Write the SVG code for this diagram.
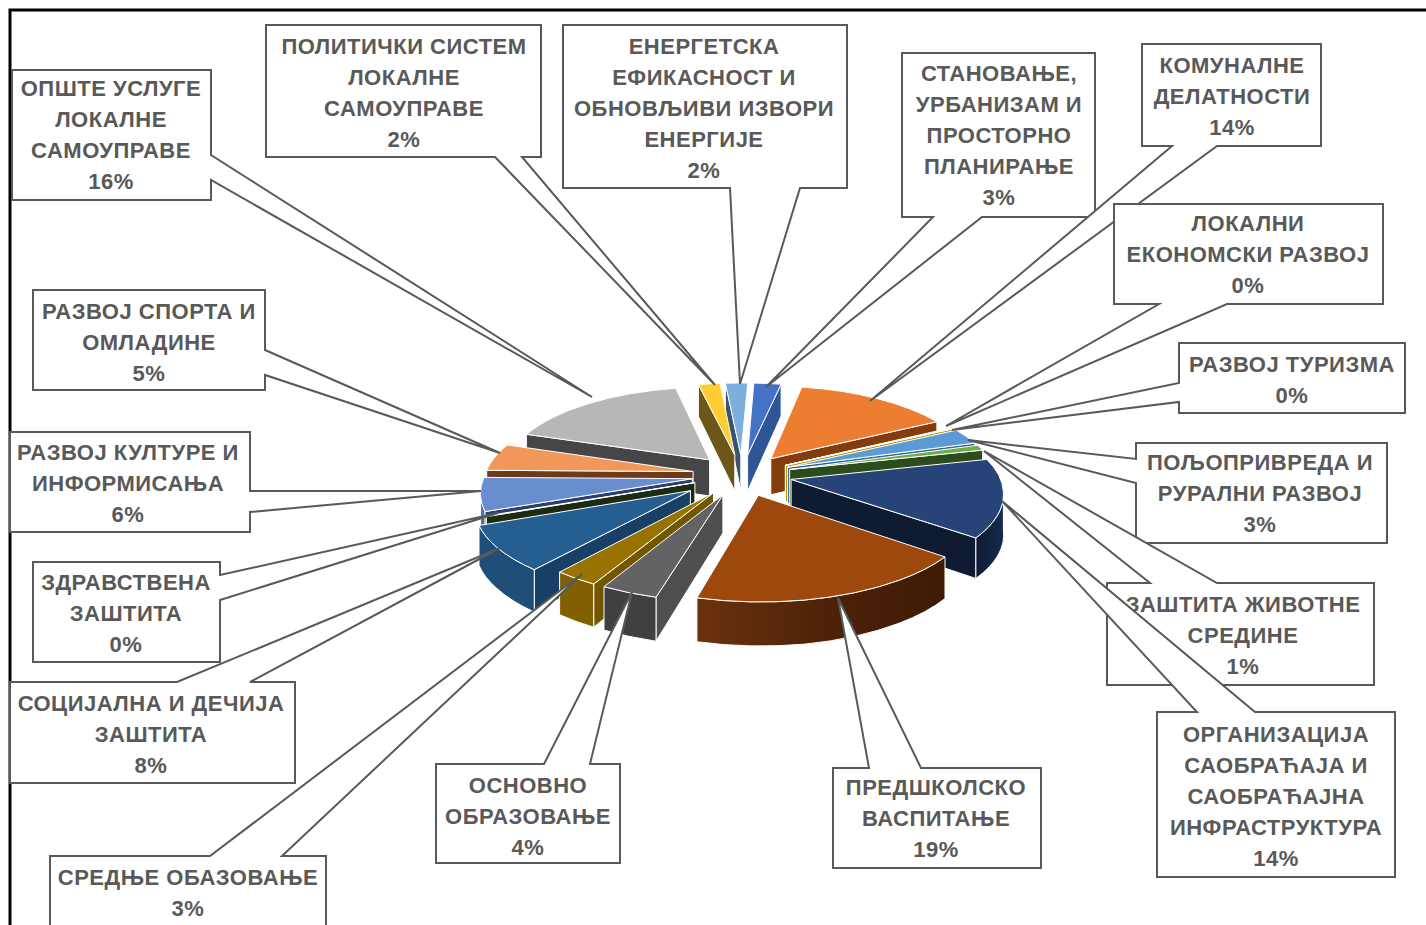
<svg xmlns="http://www.w3.org/2000/svg" width="1426" height="925" viewBox="0 0 1426 925">
<defs>
<style>
.f{stroke:#ffffff;stroke-width:1;stroke-linejoin:round}
.box{fill:#ffffff;stroke:#595959;stroke-width:2;stroke-linejoin:miter}
.lbl{font-family:"Liberation Sans",Arial,sans-serif;font-weight:bold;font-size:22px;letter-spacing:0.5px;fill:#595959;text-anchor:middle}
</style>
<linearGradient id="gBrown" gradientUnits="userSpaceOnUse" x1="697" y1="0" x2="945" y2="0">
<stop offset="0" stop-color="#6B3210"/><stop offset="0.5" stop-color="#4E2308"/><stop offset="1" stop-color="#3E1A04"/>
</linearGradient>
<linearGradient id="gNavy" gradientUnits="userSpaceOnUse" x1="976" y1="0" x2="1004" y2="0">
<stop offset="0" stop-color="#0E1B31"/><stop offset="1" stop-color="#172B50"/>
</linearGradient>
</defs>
<rect width="1426" height="925" fill="#ffffff"/>
<path d="M10 925 V10 H1426" fill="none" stroke="#000000" stroke-width="3"/>

<g id="pie">
<g id="s17"><path class="f" fill="#3B5570" d="M740.8 454.9 L725.4 383.2 L725.4 415.0 L740.8 490.8 Z"/><path class="f" fill="#7CAFDD" d="M740.8 454.9 L725.4 383.2 A203.5 85.4 0 0 1 747.8 383.0 Z"/></g>
<g id="s16"><path class="f" fill="#6B5717" d="M734.8 455.1 L698.4 384.5 L698.4 416.4 L734.8 491.0 Z"/><path class="f" fill="#FFCD33" d="M734.8 455.1 L698.4 384.5 A203.5 85.4 0 0 1 720.1 383.4 Z"/></g>
<g id="s1"><path class="f" fill="#2F5597" d="M747.6 455.0 L781.1 384.2 L781.1 416.0 L747.6 490.9 Z"/><path class="f" fill="#4472C4" d="M747.6 455.0 L753.8 383.1 A203.5 85.4 0 0 1 781.1 384.2 Z"/></g>
<g id="s15"><path class="f" fill="#464646" d="M709.6 459.8 L526.4 434.3 L526.4 469.0 L709.6 496.0 Z"/><path class="f" fill="#B7B7B7" d="M709.6 459.8 L526.4 434.3 A205.1 86.0 0 0 1 675.8 388.3 Z"/></g>
<g id="s2"><path class="f" fill="#843C0C" d="M770.8 458.7 L936.9 421.7 L936.9 455.7 L770.8 494.8 Z"/><path class="f" fill="#ED7D31" d="M770.8 458.7 L801.8 387.1 A204.7 85.9 0 0 1 936.9 421.7 Z"/></g>
<g id="s14"><path class="f" fill="#6E3A1C" d="M693.1 471.5 L486.7 470.3 L486.7 507.0 L693.1 508.3 Z"/><path class="f" fill="#F1975A" d="M693.1 471.5 L486.7 470.3 A208.9 87.6 0 0 1 507.3 445.0 Z"/></g>
<g id="s3"><path class="f" fill="#7F7F7F" d="M785.3 465.3 L953.0 428.1 L953.0 462.4 L785.3 501.7 Z"/><path class="f" fill="#A5A5A5" d="M785.3 465.3 L952.2 427.6 L953.0 428.1 Z"/></g>
<g id="s4"><path class="f" fill="#BF9000" d="M785.5 465.4 L954.0 428.6 L954.0 463.0 L785.5 501.9 Z"/><path class="f" fill="#FFC000" d="M785.5 465.4 L953.2 428.2 L954.0 428.6 Z"/></g>
<g id="s5"><path class="f" fill="#2E6596" d="M787.6 467.2 L974.8 443.1 L974.8 478.3 L787.6 503.7 Z"/><path class="f" fill="#5B9BD5" d="M787.6 467.2 L956.4 430.2 A207.5 87.0 0 0 1 974.8 443.1 Z"/></g>
<g id="s6"><path class="f" fill="#2C4C1C" d="M789.7 469.5 L982.7 450.1 L982.7 485.7 L789.7 506.2 Z"/><path class="f" fill="#70AD47" d="M789.7 469.5 L977.5 445.3 A207.5 87.0 0 0 1 982.7 450.1 Z"/></g>
<g id="s13"><path class="f" fill="#2B3F6C" d="M692.6 478.7 L484.9 511.6 L484.9 550.7 L692.6 515.9 Z"/><path class="f" fill="#4E6DAA" d="M484.9 511.6 A211.2 88.6 0 0 1 480.6 491.1 L480.6 529.0 A211.2 88.6 0 0 0 484.9 550.7 Z"/><path class="f" fill="#698ED0" d="M692.6 478.7 L484.9 511.6 A211.2 88.6 0 0 1 483.9 477.4 Z"/></g>
<g id="s12"><path class="f" fill="#1C2B12" d="M694.9 482.6 L486.4 516.6 L486.4 556.0 L694.9 520.0 Z"/><path class="f" fill="#43682B" d="M694.9 482.6 L486.4 516.6 L486.1 515.9 Z"/></g>
<g id="s7"><path class="f" fill="#0E1B31" d="M791.1 479.4 L975.9 537.9 L975.9 578.5 L791.1 516.6 Z"/><path class="f" fill="url(#gNavy)" d="M1003.4 491.8 A211.4 88.7 0 0 1 975.9 537.9 L975.9 578.5 A211.4 88.7 0 0 0 1003.4 529.8 Z"/><path class="f" fill="#264478" d="M791.1 479.4 L986.9 459.4 A211.4 88.7 0 0 1 1003.4 491.8 A211.4 88.7 0 0 1 975.9 537.9 Z"/></g>
<g id="s11"><path class="f" fill="#183F66" d="M690.4 490.7 L534.3 569.6 L534.3 612.0 L690.4 528.6 Z"/><path class="f" fill="#1F4E79" d="M534.3 569.6 A215.1 90.2 0 0 1 496.7 547.2 A215.1 90.2 0 0 1 479.0 525.5 L479.0 565.4 A215.1 90.2 0 0 0 496.7 588.3 A215.1 90.2 0 0 0 534.3 612.0 Z"/><path class="f" fill="#255E91" d="M690.4 490.7 L534.3 569.6 A215.1 90.2 0 0 1 496.7 547.2 A215.1 90.2 0 0 1 479.0 525.5 Z"/></g>
<g id="s10"><path class="f" fill="#735600" d="M713.5 492.7 L593.7 584.0 L593.7 627.2 L713.5 530.7 Z"/><path class="f" fill="#806000" d="M593.7 584.0 A215.7 90.5 0 0 1 559.6 572.1 L559.6 614.7 A215.7 90.5 0 0 0 593.7 627.2 Z"/><path class="f" fill="#997300" d="M713.5 492.7 L593.7 584.0 A215.7 90.5 0 0 1 559.6 572.1 Z"/></g>
<g id="s9"><path class="f" fill="#4F4F4F" d="M722.9 494.9 L656.0 597.2 L656.0 641.2 L722.9 533.0 Z"/><path class="f" fill="#404040" d="M656.0 597.2 A216.4 90.8 0 0 1 604.0 586.7 L604.0 630.1 A216.4 90.8 0 0 0 656.0 641.2 Z"/><path class="f" fill="#636363" d="M722.9 494.9 L656.0 597.2 A216.4 90.8 0 0 1 604.0 586.7 Z"/></g>
<g id="s8"><path class="f" fill="url(#gBrown)" d="M945.0 556.9 A216.6 90.9 0 0 1 899.2 580.2 A216.6 90.9 0 0 1 804.1 600.1 A216.6 90.9 0 0 1 696.9 597.8 L696.9 641.8 A216.6 90.9 0 0 0 804.1 644.2 A216.6 90.9 0 0 0 899.2 623.2 A216.6 90.9 0 0 0 945.0 598.6 Z"/><path class="f" fill="#9E480E" d="M758.4 495.3 L945.0 556.9 A216.6 90.9 0 0 1 899.2 580.2 A216.6 90.9 0 0 1 804.1 600.1 A216.6 90.9 0 0 1 696.9 597.8 Z"/></g>
</g>

<g id="callouts">
<g id="c-opste"><path class="box" d="M12 70 H211 V155 L592 397 L211 180 V200 H12 Z"/><text class="lbl"><tspan x="111" y="96">ОПШТЕ УСЛУГЕ</tspan><tspan x="111" y="127">ЛОКАЛНЕ</tspan><tspan x="111" y="158">САМОУПРАВЕ</tspan><tspan x="111" y="189">16%</tspan></text></g>
<g id="c-politicki"><path class="box" d="M266 25 H541 V157 H522 L715 385 L495 157 H266 Z"/><text class="lbl"><tspan x="404" y="54">ПОЛИТИЧКИ СИСТЕМ</tspan><tspan x="404" y="85">ЛОКАЛНЕ</tspan><tspan x="404" y="116">САМОУПРАВЕ</tspan><tspan x="404" y="147">2%</tspan></text></g>
<g id="c-energetska"><path class="box" d="M563 25 H847 V188 H800 L740 384 L730 188 H563 Z"/><text class="lbl"><tspan x="704" y="54">ЕНЕРГЕТСКА</tspan><tspan x="704" y="85">ЕФИКАСНОСТ И</tspan><tspan x="704" y="116">ОБНОВЉИВИ ИЗВОРИ</tspan><tspan x="704" y="147">ЕНЕРГИЈЕ</tspan><tspan x="704" y="178">2%</tspan></text></g>
<g id="c-stanovanje"><path class="box" d="M902 53 H1095 V217 H982 L766 387 L933 217 H902 Z"/><text class="lbl"><tspan x="999" y="81">СТАНОВАЊЕ,</tspan><tspan x="999" y="112">УРБАНИЗАМ И</tspan><tspan x="999" y="143">ПРОСТОРНО</tspan><tspan x="999" y="174">ПЛАНИРАЊЕ</tspan><tspan x="999" y="205">3%</tspan></text></g>
<g id="c-komunalne"><path class="box" d="M1142 44 H1321 V146 H1217 L870 401 L1172 146 H1142 Z"/><text class="lbl"><tspan x="1232" y="73">КОМУНАЛНЕ</tspan><tspan x="1232" y="104">ДЕЛАТНОСТИ</tspan><tspan x="1232" y="135">14%</tspan></text></g>
<g id="c-lokalni"><path class="box" d="M1114 204 H1383 V304 H1227 L946 426 L1159 304 H1114 Z"/><text class="lbl"><tspan x="1248" y="231">ЛОКАЛНИ</tspan><tspan x="1248" y="262">ЕКОНОМСКИ РАЗВОЈ</tspan><tspan x="1248" y="293">0%</tspan></text></g>
<g id="c-turizam"><path class="box" d="M1179 343 H1405 V413 H1179 V402 L952 430 L1179 383 Z"/><text class="lbl"><tspan x="1292" y="372">РАЗВОЈ ТУРИЗМА</tspan><tspan x="1292" y="403">0%</tspan></text></g>
<g id="c-poljo"><path class="box" d="M1136 443 H1387 V543 H1136 V483 L968 440 L1136 459 Z"/><text class="lbl"><tspan x="1260" y="470">ПОЉОПРИВРЕДА И</tspan><tspan x="1260" y="501">РУРАЛНИ РАЗВОЈ</tspan><tspan x="1260" y="532">3%</tspan></text></g>
<g id="c-zastita"><path class="box" d="M1107 583 H1150 L984 451 L1217 583 H1374 V685 H1107 Z"/><text class="lbl"><tspan x="1243" y="612">ЗАШТИТА ЖИВОТНЕ</tspan><tspan x="1243" y="643">СРЕДИНЕ</tspan><tspan x="1243" y="674">1%</tspan></text></g>
<g id="c-org"><path class="box" d="M1157 712 H1197 L1002 501 L1255 712 H1395 V877 H1157 Z"/><text class="lbl"><tspan x="1276" y="742">ОРГАНИЗАЦИЈА</tspan><tspan x="1276" y="773">САОБРАЋАЈА И</tspan><tspan x="1276" y="804">САОБРАЋАЈНА</tspan><tspan x="1276" y="835">ИНФРАСТРУКТУРА</tspan><tspan x="1276" y="866">14%</tspan></text></g>
<g id="c-predskolsko"><path class="box" d="M833 768 H869 L838 598 L921 768 H1041 V868 H833 Z"/><text class="lbl"><tspan x="936" y="795">ПРЕДШКОЛСКО</tspan><tspan x="936" y="826">ВАСПИТАЊЕ</tspan><tspan x="936" y="857">19%</tspan></text></g>
<g id="c-osnovno"><path class="box" d="M436 764 H544 L632 592 L590 764 H620 V863 H436 Z"/><text class="lbl"><tspan x="528" y="793">ОСНОВНО</tspan><tspan x="528" y="824">ОБРАЗОВАЊЕ</tspan><tspan x="528" y="855">4%</tspan></text></g>
<g id="c-srednje"><path class="box" d="M50 856 H210 L582 574 L282 856 H326 V940 H50 Z"/><text class="lbl"><tspan x="188" y="885">СРЕДЊЕ ОБАЗОВАЊЕ</tspan><tspan x="188" y="916">3%</tspan></text></g>
<g id="c-socijalna"><path class="box" d="M10 682 H177 L500 548 L250 682 H295 V783 H10 Z"/><text class="lbl"><tspan x="151" y="711">СОЦИЈАЛНА И ДЕЧИЈА</tspan><tspan x="151" y="742">ЗАШТИТА</tspan><tspan x="151" y="773">8%</tspan></text></g>
<g id="c-zdravstvena"><path class="box" d="M33 562 H220 V575 L498 513 L220 600 V662 H33 Z"/><text class="lbl"><tspan x="126" y="590">ЗДРАВСТВЕНА</tspan><tspan x="126" y="621">ЗАШТИТА</tspan><tspan x="126" y="652">0%</tspan></text></g>
<g id="c-kultura"><path class="box" d="M10 432 H250 V491 L481 491 L250 512 V532 H10 Z"/><text class="lbl"><tspan x="128" y="460">РАЗВОЈ КУЛТУРЕ И</tspan><tspan x="128" y="491">ИНФОРМИСАЊА</tspan><tspan x="128" y="522">6%</tspan></text></g>
<g id="c-sport"><path class="box" d="M33 290 H265 V350 L500 453 L265 375 V390 H33 Z"/><text class="lbl"><tspan x="149" y="319">РАЗВОЈ СПОРТА И</tspan><tspan x="149" y="350">ОМЛАДИНЕ</tspan><tspan x="149" y="381">5%</tspan></text></g>
</g>
</svg>
